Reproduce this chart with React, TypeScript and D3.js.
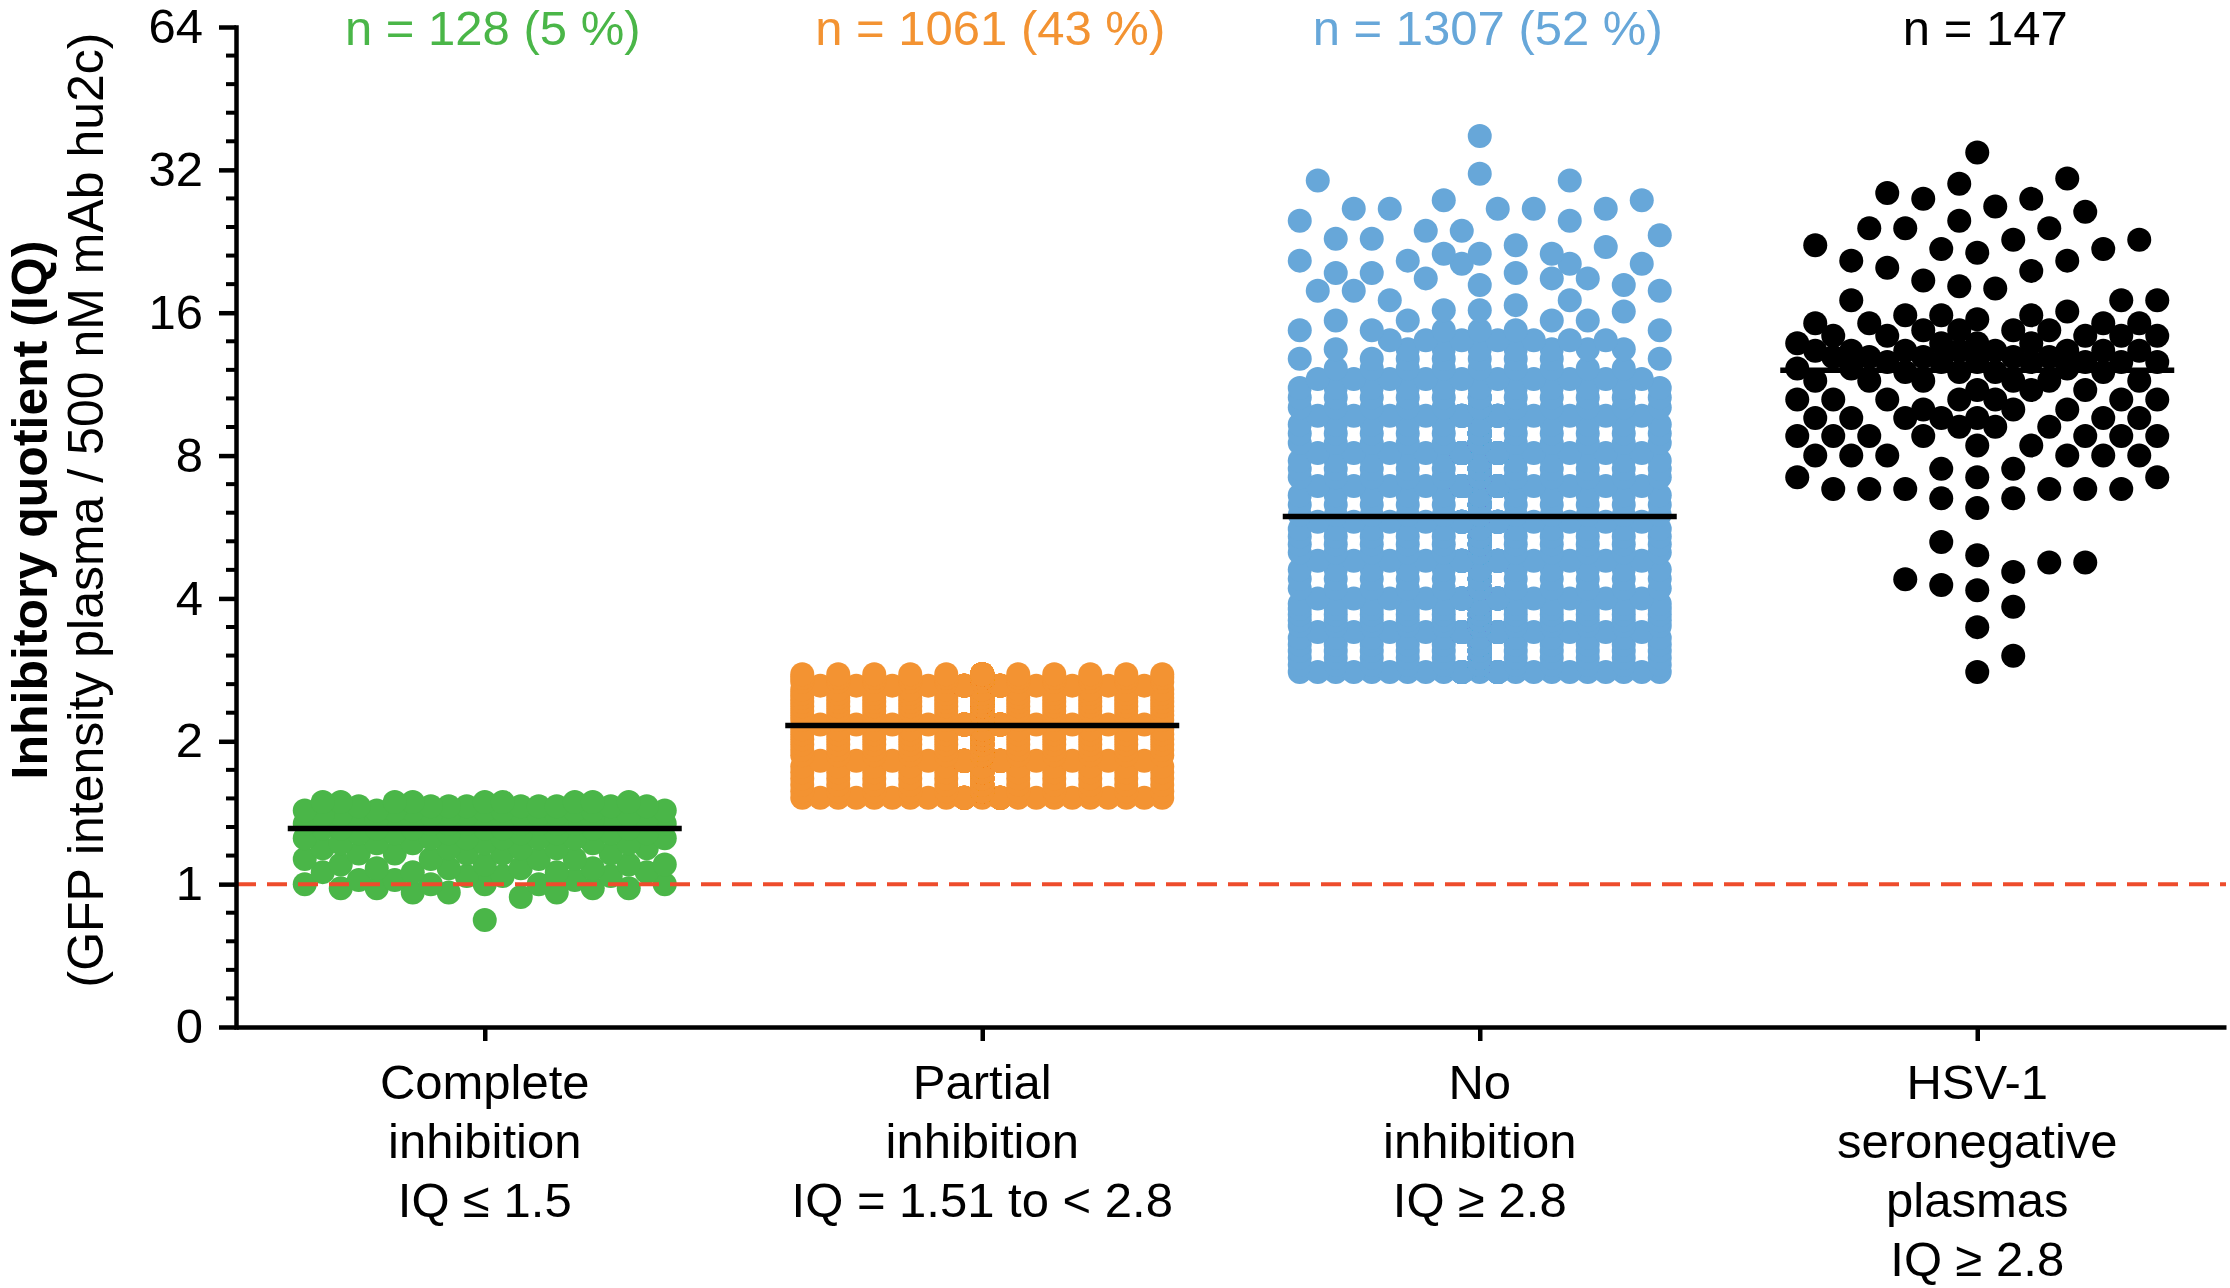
import { useRef, useEffect } from "react";
import * as d3 from "d3";

// categories on the x axis
const categories = ["complete", "partial", "none", "seronegative"];
const categoryLines = [
  ["Complete", "inhibition", "IQ ≤ 1.5"],
  ["Partial", "inhibition", "IQ = 1.51 to < 2.8"],
  ["No", "inhibition", "IQ ≥ 2.8"],
  ["HSV-1", "seronegative", "plasmas", "IQ ≥ 2.8"],
];
const nLabels = ["n = 128 (5 %)", "n = 1061 (43 %)", "n = 1307 (52 %)", "n = 147"];
const groupColors = ["#4ab648", "#f39332", "#67a7d9", "#000000"];
const medians = [1.31, 2.16, 5.95, 12.1];

// log2 y axis, bottom tick labelled "0"
const yTicks = [0.5, 1, 2, 4, 8, 16, 32, 64];
const yTickLabels = ["0", "1", "2", "4", "8", "16", "32", "64"];
const cutoff = 1;

// IQ value levels and number of plasmas at each level
const completeLevels = [0.84, 0.94, 0.96, 0.98, 1.0, 1.02, 1.04, 1.06, 1.08, 1.1, 1.13, 1.16, 1.19, 1.22, 1.25, 1.28, 1.31, 1.34, 1.37, 1.4, 1.43, 1.46, 1.49];
const completeCounts = [1, 1, 3, 4, 5, 3, 3, 4, 4, 4, 4, 5, 5, 6, 7, 7, 8, 9, 9, 9, 9, 9, 9];

const partialLevels = [1.52, 1.57, 1.62, 1.67, 1.72, 1.77, 1.82, 1.87, 1.92, 1.97, 2.02, 2.07, 2.12, 2.17, 2.22, 2.27, 2.32, 2.37, 2.42, 2.47, 2.52, 2.57, 2.62, 2.67, 2.72, 2.77];
const partialCounts = [44, 43, 43, 42, 42, 42, 41, 41, 41, 41, 41, 40, 40, 40, 40, 40, 41, 41, 40, 40, 39, 41, 41, 39, 39, 39];

const noneLevels = [
  2.8, 2.9, 3.0, 3.1, 3.2, 3.3, 3.4, 3.5, 3.6, 3.7, 3.8, 3.9, 4.0, 4.2, 4.4, 4.6, 4.8, 5.0, 5.2, 5.4, 5.6, 5.8,
  6.0, 6.3, 6.6, 6.9, 7.2, 7.5, 7.8, 8.1, 8.5, 8.9, 9.3, 9.7, 10.1, 10.6, 11.1,
  11.6, 12.2, 12.8, 13.4, 14.0, 14.7, 15.4, 16.1,
  16.2, 16.6, 17.0, 17.8, 18.3, 18.9, 19.4, 20.3, 20.6, 21.3, 22.0, 22.2, 22.9, 23.3, 23.8, 25.0, 26.5, 27.6, 30.4, 31.4, 37.7,
];
const noneCounts = [
  35, 34, 34, 33, 32, 31, 31, 30, 29, 29, 28, 27, 27, 31, 30, 29, 28, 28, 27, 27, 27, 26,
  52, 50, 50, 48, 48, 47, 46, 45, 43, 41, 24, 20, 17, 14, 12,
  10, 9, 8, 8, 7, 6, 4, 1,
  2, 1, 2, 3, 2, 3, 3, 3, 2, 3, 1, 1, 2, 1, 2, 2, 5, 2, 2, 1, 1,
];

const seronegLevels = [
  2.8, 3.03, 3.48, 3.84, 4.16, 4.27, 4.39, 4.55, 4.76, 4.93, 5.26,
  6.2, 6.5, 6.8, 7.2, 7.5, 8.0, 8.4, 8.8, 9.2, 9.6, 10.0, 10.5, 11.0, 11.5, 12.0,
  12.2, 12.6, 12.9, 13.3, 13.8, 14.3, 14.7, 15.2, 15.5, 15.8, 16.1, 17.0,
  18.0, 18.2, 18.7, 19.6, 19.9, 20.6, 21.4, 21.8, 22.2, 22.8, 24.1, 25.0, 26.1, 26.8, 27.8, 28.6, 29.9, 30.7, 34.8,
];
const seronegCounts = [
  1, 1, 1, 1, 1, 1, 1, 1, 2, 1, 1,
  1, 2, 6, 3, 2, 6, 2, 7, 3, 7, 3, 7, 3, 6, 4,
  3, 7, 5, 8, 4, 5, 4, 4, 1, 3, 1, 3,
  1, 1, 1, 1, 1, 2, 1, 2, 1, 2, 3, 1, 1, 1, 2, 1, 1, 1, 1,
];

const groups = [
  { levels: completeLevels, counts: completeCounts, lattice: false },
  { levels: partialLevels, counts: partialCounts, lattice: true },
  { levels: noneLevels, counts: noneCounts, lattice: true },
  { levels: seronegLevels, counts: seronegCounts, lattice: false },
];

const FONT = "'Liberation Sans', Arial, Helvetica, sans-serif";

// greedy swarm: every dot stays on its value and slides sideways on a fixed grid.
// In overfull groups, dots go on the even columns except on "bridge" levels every rowH px,
// which use the odd columns (this leaves the little white squares of the original).
function swarm(levels: number[], counts: number[], cx: number, y: (v: number) => number,
  step: number, maxK: number, free: number, lattice: boolean, rowH = 37) {
  const order = d3.range(levels.length).sort((a, b) => levels[a] - levels[b]);
  const levelY = order.map(i => y(levels[i]));
  const bridge = new Set<number>();
  if (lattice) {
    const y0 = levelY[0], yEnd = levelY[levelY.length - 1];
    for (let t = y0; t >= yEnd - rowH / 2; t -= rowH) {
      let bi = 0;
      levelY.forEach((py, i) => { if (Math.abs(py - t) < Math.abs(levelY[bi] - t)) bi = i; });
      if (Math.abs(levelY[bi] - t) < rowH / 2) bridge.add(bi);
    }
  }
  const pts: { x: number; y: number }[] = [];
  let n = 0;
  order.forEach((li, oi) => {
    const py = levelY[oi];
    for (let c = 0; c < counts[li]; c++, n++) {
      const s = n % 2 ? 1 : -1;
      const ks = [0];
      for (let k = 1; k <= maxK; k++) ks.push(s * k, -s * k);
      let chosen: number | null = null, bestK = 0, bestD = -1;
      for (const k of ks) {
        const px = cx + k * step;
        let md = Infinity;
        for (let j = pts.length - 1; j >= 0; j--) {
          const p = pts[j];
          if (p.y - py >= free) break;
          const d = Math.hypot(p.x - px, p.y - py);
          if (d < md) md = d;
        }
        if (md >= free) { chosen = k; break; }
        const odd = Math.abs(k) % 2 === 1;
        if (lattice && odd !== bridge.has(oi)) continue;
        if (md > bestD + 0.01) { bestD = md; bestK = k; }
      }
      pts.push({ x: cx + (chosen ?? bestK) * step, y: py });
    }
  });
  return pts;
}

export default function App() {
  const ref = useRef<SVGSVGElement>(null);

  useEffect(() => {
    if (!ref.current) return;
    const svg = d3.select(ref.current);
    svg.selectAll("*").remove();
    const left = 236, right = 2226, top = 27, bottom = 1027;

    const x = d3.scalePoint<string>().domain(categories).range([left, right]).padding(0.5);
    const y = d3.scaleLog().base(2).domain([0.5, 64]).range([bottom, top]);

    // dots
    groups.forEach((g, gi) => {
      const pts = swarm(g.levels, g.counts, x(categories[gi])!, y, 18, 10, 34, g.lattice);
      svg.append("g").selectAll("circle").data(pts).enter().append("circle")
        .attr("cx", d => d.x).attr("cy", d => d.y).attr("r", 12).attr("fill", groupColors[gi]);
    });

    // cut-off line at IQ = 1
    svg.append("line").attr("x1", left).attr("x2", right).attr("y1", y(cutoff)).attr("y2", y(cutoff))
      .attr("stroke", "#ee4c2c").attr("stroke-width", 4).attr("stroke-dasharray", "20,11");

    // medians
    svg.append("g").selectAll("line").data(medians).enter().append("line")
      .attr("x1", (d, i) => x(categories[i])! - 197).attr("x2", (d, i) => x(categories[i])! + 197)
      .attr("y1", d => y(d)).attr("y2", d => y(d)).attr("stroke", "#000").attr("stroke-width", 5.5);

    // y axis
    const ya = svg.append("g").attr("transform", `translate(${left},0)`)
      .call(d3.axisLeft(y).tickValues(yTicks).tickFormat((d, i) => yTickLabels[i]).tickSize(17).tickSizeOuter(0).tickPadding(16));
    ya.selectAll("text").attr("font-size", 49).attr("font-family", FONT).attr("fill", "#000");
    ya.selectAll("line").attr("stroke-width", 4.5);
    ya.select(".domain").attr("stroke-width", 4.5).attr("stroke-linecap", "square");

    // minor ticks, four per doubling
    const minor: number[] = [];
    for (let i = 0; i < yTicks.length - 1; i++) for (let j = 1; j < 5; j++) minor.push(yTicks[i] * Math.pow(2, j / 5));
    svg.append("g").selectAll("line").data(minor).enter().append("line")
      .attr("x1", left - 10).attr("x2", left).attr("y1", d => y(d)).attr("y2", d => y(d))
      .attr("stroke", "#000").attr("stroke-width", 4);

    // x axis
    const xa = svg.append("g").attr("transform", `translate(0,${bottom})`)
      .call(d3.axisBottom(x).tickSize(14).tickSizeOuter(0).tickFormat(() => ""));
    xa.selectAll("text").remove();
    xa.selectAll("line").attr("stroke-width", 4.5);
    xa.select(".domain").attr("stroke-width", 4.5);

    // category labels
    categoryLines.forEach((lines, i) => {
      const t = svg.append("text").attr("text-anchor", "middle").attr("font-family", FONT).attr("font-size", 49);
      lines.forEach((s, k) => {
        t.append("tspan").attr("x", x(categories[i])!).attr("y", 1099 + k * 59).text(s);
      });
    });

    // n counts above the groups
    svg.append("g").selectAll("text").data(nLabels).enter().append("text")
      .attr("x", (d, i) => x(categories[i])! + 8).attr("y", 45).attr("text-anchor", "middle")
      .attr("font-family", FONT).attr("font-size", 49).attr("fill", (d, i) => groupColors[i]).text(d => d);

    // y axis title
    const yt = svg.append("text").attr("transform", "translate(47,510) rotate(-90)")
      .attr("text-anchor", "middle").attr("font-family", FONT).attr("font-size", 50);
    yt.append("tspan").attr("x", 0).attr("y", 0).attr("font-weight", "bold").text("Inhibitory quotient (IQ)");
    yt.append("tspan").attr("x", 0).attr("y", 56).text("(GFP intensity plasma / 500 nM mAb hu2c)");
  }, []);

  return (
    <svg ref={ref} width={2230} height={1288}
      style={{ position: "absolute", left: 0, top: 0, background: "#fff" }} />
  );
}
